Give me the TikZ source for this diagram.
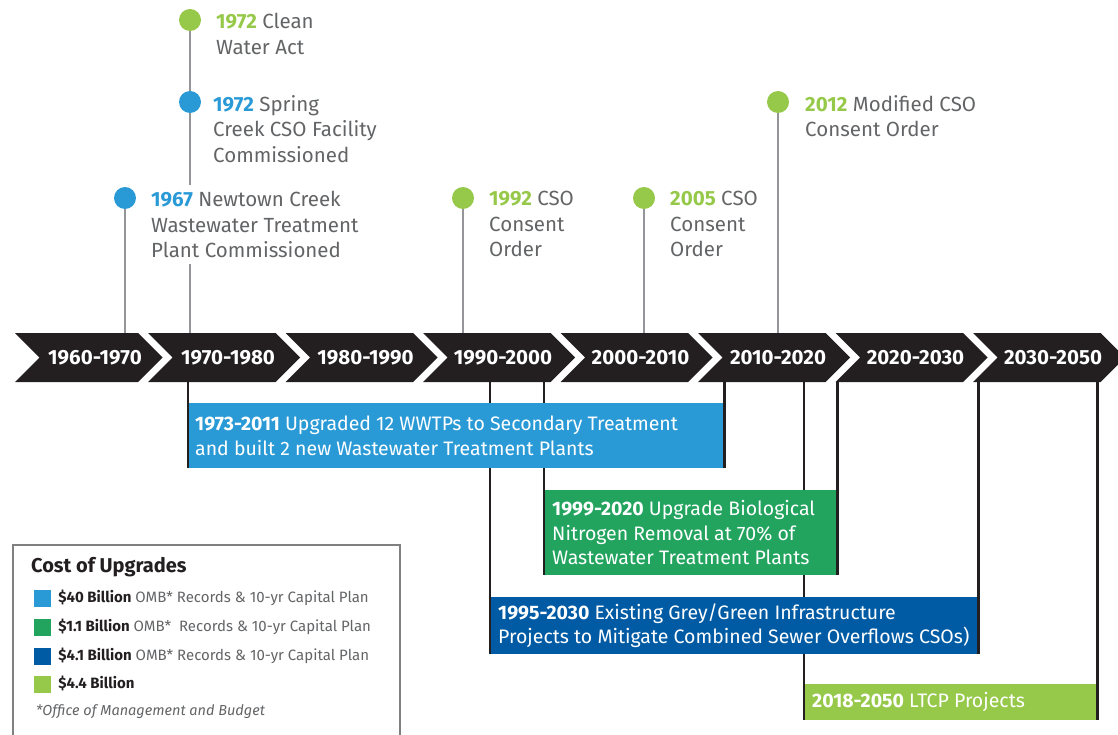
\documentclass[tikz,border=0pt]{standalone}
\usepackage{fontspec}
\setmainfont{Fira Sans}
\usetikzlibrary{positioning}
\definecolor{chevron}{HTML}{231F20}
\definecolor{pin}{HTML}{939598}
\definecolor{txtgray}{HTML}{636466}
\definecolor{lightblue}{HTML}{2A9AD6}
\definecolor{midgreen}{HTML}{22A45F}
\definecolor{darkblue}{HTML}{005BA4}
\definecolor{lime}{HTML}{96C94A}
\definecolor{boxgray}{HTML}{808080}
\newcommand{\LIME}[1]{\textcolor{lime}{\textbf{#1}}}
\newcommand{\LBLUE}[1]{\textcolor{lightblue}{\textbf{#1}}}
\tikzset{
  decade/.style={text=white, font=\fontsize{20.5}{23}\selectfont\bfseries,
    text height=14pt, text depth=1pt, inner sep=0pt},
  dot/.style={circle, inner sep=0pt, minimum size=22pt},
  pinline/.style={draw=pin, line width=2.4pt},
  event/.style={anchor=north west, inner sep=0pt, align=left, text=txtgray,
    font=\fontsize{20.5}{25.5}\selectfont},
  barbox/.style={anchor=north west, inner sep=0pt},
  bartext/.style={inner sep=0pt, align=left, text=white,
    font=\fontsize{19.5}{24.5}\selectfont},
  edge/.style={draw=chevron, line width=2.2pt},
  keybox/.style={minimum size=17pt, inner sep=0pt},
  keytext/.style={inner sep=0pt, anchor=west, text height=11pt, text depth=3pt,
    font=\fontsize{15}{18}\selectfont},
}
\begin{document}
\begin{tikzpicture}[x=1pt, y=-1pt]
  \useasboundingbox (0,0) rectangle (1118,735);
  \clip (0,0) rectangle (1118,735);

  %% timeline band
  \foreach \lft/\bw/\lbl [count=\i] in {15/123/1960-1970, 148/127.5/1970-1980,
    285.5/127.5/1980-1990, 423/127.5/1990-2000, 560.5/127.5/2000-2010,
    698/127.5/2010-2020, 835.5/127.5/2020-2030, 973/127.5/2030-2050}{
    \fill[chevron] (\lft,333) -- ++(\bw,0) -- ++(24.5,24.5) -- ++(-24.5,24.5)
      -- ++(-\bw,0) -- ++(24.5,-24.5) -- cycle;
    \node[decade] (dec\i) at (\lft+80,357.5) {\lbl};
  }
  \coordinate (bandbot) at (0,382);
  \coordinate (t125) at (125,333);
  \coordinate (t190) at (190,333);
  \coordinate (t463) at (463,333);
  \coordinate (t644) at (644,333);
  \coordinate (t778) at (778,333);

  %% event pins
  \node[dot, fill=lime]      (cwa)  at (190,20)  {};
  \node[dot, fill=lightblue] (scf)  at (190,102) {};
  \node[dot, fill=lightblue] (ncw)  at (125,198) {};
  \node[dot, fill=lime]      (co92) at (463,198) {};
  \node[dot, fill=lime]      (co05) at (644,198) {};
  \node[dot, fill=lime]      (co12) at (778,102) {};

  \draw[pinline] (cwa) -- (scf);
  \draw[pinline] (scf) -- (t190);
  \draw[pinline] (ncw) -- (t125);
  \draw[pinline] (co92) -- (t463);
  \draw[pinline] (co05) -- (t644);
  \draw[pinline] (co12) -- (t778);

  \node[event] (cwa text) at (216,13) {\LIME{1972} Clean\\Water Act};
  \node[event] (scf text) at (213,95)
    {\LBLUE{1972} Spring\\Creek CSO Facility\\Commissioned};
  \node[event, fill=white, inner ysep=6pt] (ncw text) at (151,185)
    {\LBLUE{1967} Newtown Creek\\Wastewater Treatment\\Plant Commissioned};
  \node[event] (co92 text) at (489,191) {\LIME{1992} CSO\\Consent\\Order};
  \node[event] (co05 text) at (670,191) {\LIME{2005} CSO\\Consent\\Order};
  \node[event] (co12 text) at (805,95) {\LIME{2012} Modified CSO\\Consent Order};

  %% upgrade bars, lowest first
  \node[barbox, fill=lime, minimum width=293pt, minimum height=36pt]
    (ltcp) at (804,684) {};
  \draw[edge] (ltcp.south west |- bandbot) -- (ltcp.south west);
  \draw[edge] (ltcp.south east |- bandbot) -- (ltcp.south east);
  \node[bartext, right=8pt of ltcp.west] (ltcp text)
    {\textbf{2018-2050} LTCP Projects};

  \node[barbox, fill=darkblue, minimum width=488pt, minimum height=57pt]
    (gig) at (490,597) {};
  \draw[edge] (gig.south west |- bandbot) -- (gig.south west);
  \draw[edge] (gig.south east |- bandbot) -- (gig.south east);
  \node[bartext, right=8pt of gig.west] (gig text)
    {\textbf{1995-2030} Existing Grey/Green Infrastructure\\
     Projects to Mitigate Combined Sewer Overflows CSOs)};

  \node[barbox, fill=midgreen, minimum width=293pt, minimum height=85pt]
    (bnr) at (544,490) {};
  \draw[edge] (bnr.south west |- bandbot) -- (bnr.south west);
  \draw[edge] (bnr.south east |- bandbot) -- (bnr.south east);
  \node[bartext, right=8pt of bnr.west] (bnr text)
    {\textbf{1999-2020} Upgrade Biological\\Nitrogen Removal at 70\% of\\
     Wastewater Treatment Plants};

  \node[barbox, fill=lightblue, minimum width=536pt, minimum height=65pt]
    (upg) at (188,403) {};
  \draw[edge] (upg.south west |- bandbot) -- (upg.south west);
  \draw[edge] (upg.south east |- bandbot) -- (upg.south east);
  \node[bartext, right=7pt of upg.west] (upg text)
    {\textbf{1973-2011} Upgraded 12 WWTPs to Secondary Treatment\\
     and built 2 new Wastewater Treatment Plants};

  %% cost legend
  \draw[boxgray, line width=1.3pt] (13,745) -- (13,545) -- (400,545) -- (400,745);
  \node[anchor=west, inner sep=0pt, text=chevron,
    font=\fontsize{20}{22}\selectfont\bfseries] (key title) at (31,567)
    {Cost of Upgrades};
  \foreach \yy/\col/\amt/\src [count=\i] in
    {598/lightblue/{\$40 Billion}/{OMB* Records \& 10-yr Capital Plan},
     627/midgreen/{\$1.1 Billion}/{OMB*~ Records \& 10-yr Capital Plan},
     656/darkblue/{\$4.1 Billion}/{OMB* Records \& 10-yr Capital Plan},
     684/lime/{\$4.4 Billion}/{}}{
    \node[keybox, fill=\col] (key\i) at (42.5,\yy) {};
    \node[keytext, right=7pt of key\i.east]
      (key text\i) {\textcolor{chevron}{\textbf{\amt}} \textcolor{txtgray}{\src}};
  }
  \node[anchor=west, inner sep=0pt, text=txtgray,
    font=\fontsize{14.5}{17}\selectfont\itshape] (key note) at (36,712)
    {*Office of Management and Budget};

\end{tikzpicture}
\end{document}
